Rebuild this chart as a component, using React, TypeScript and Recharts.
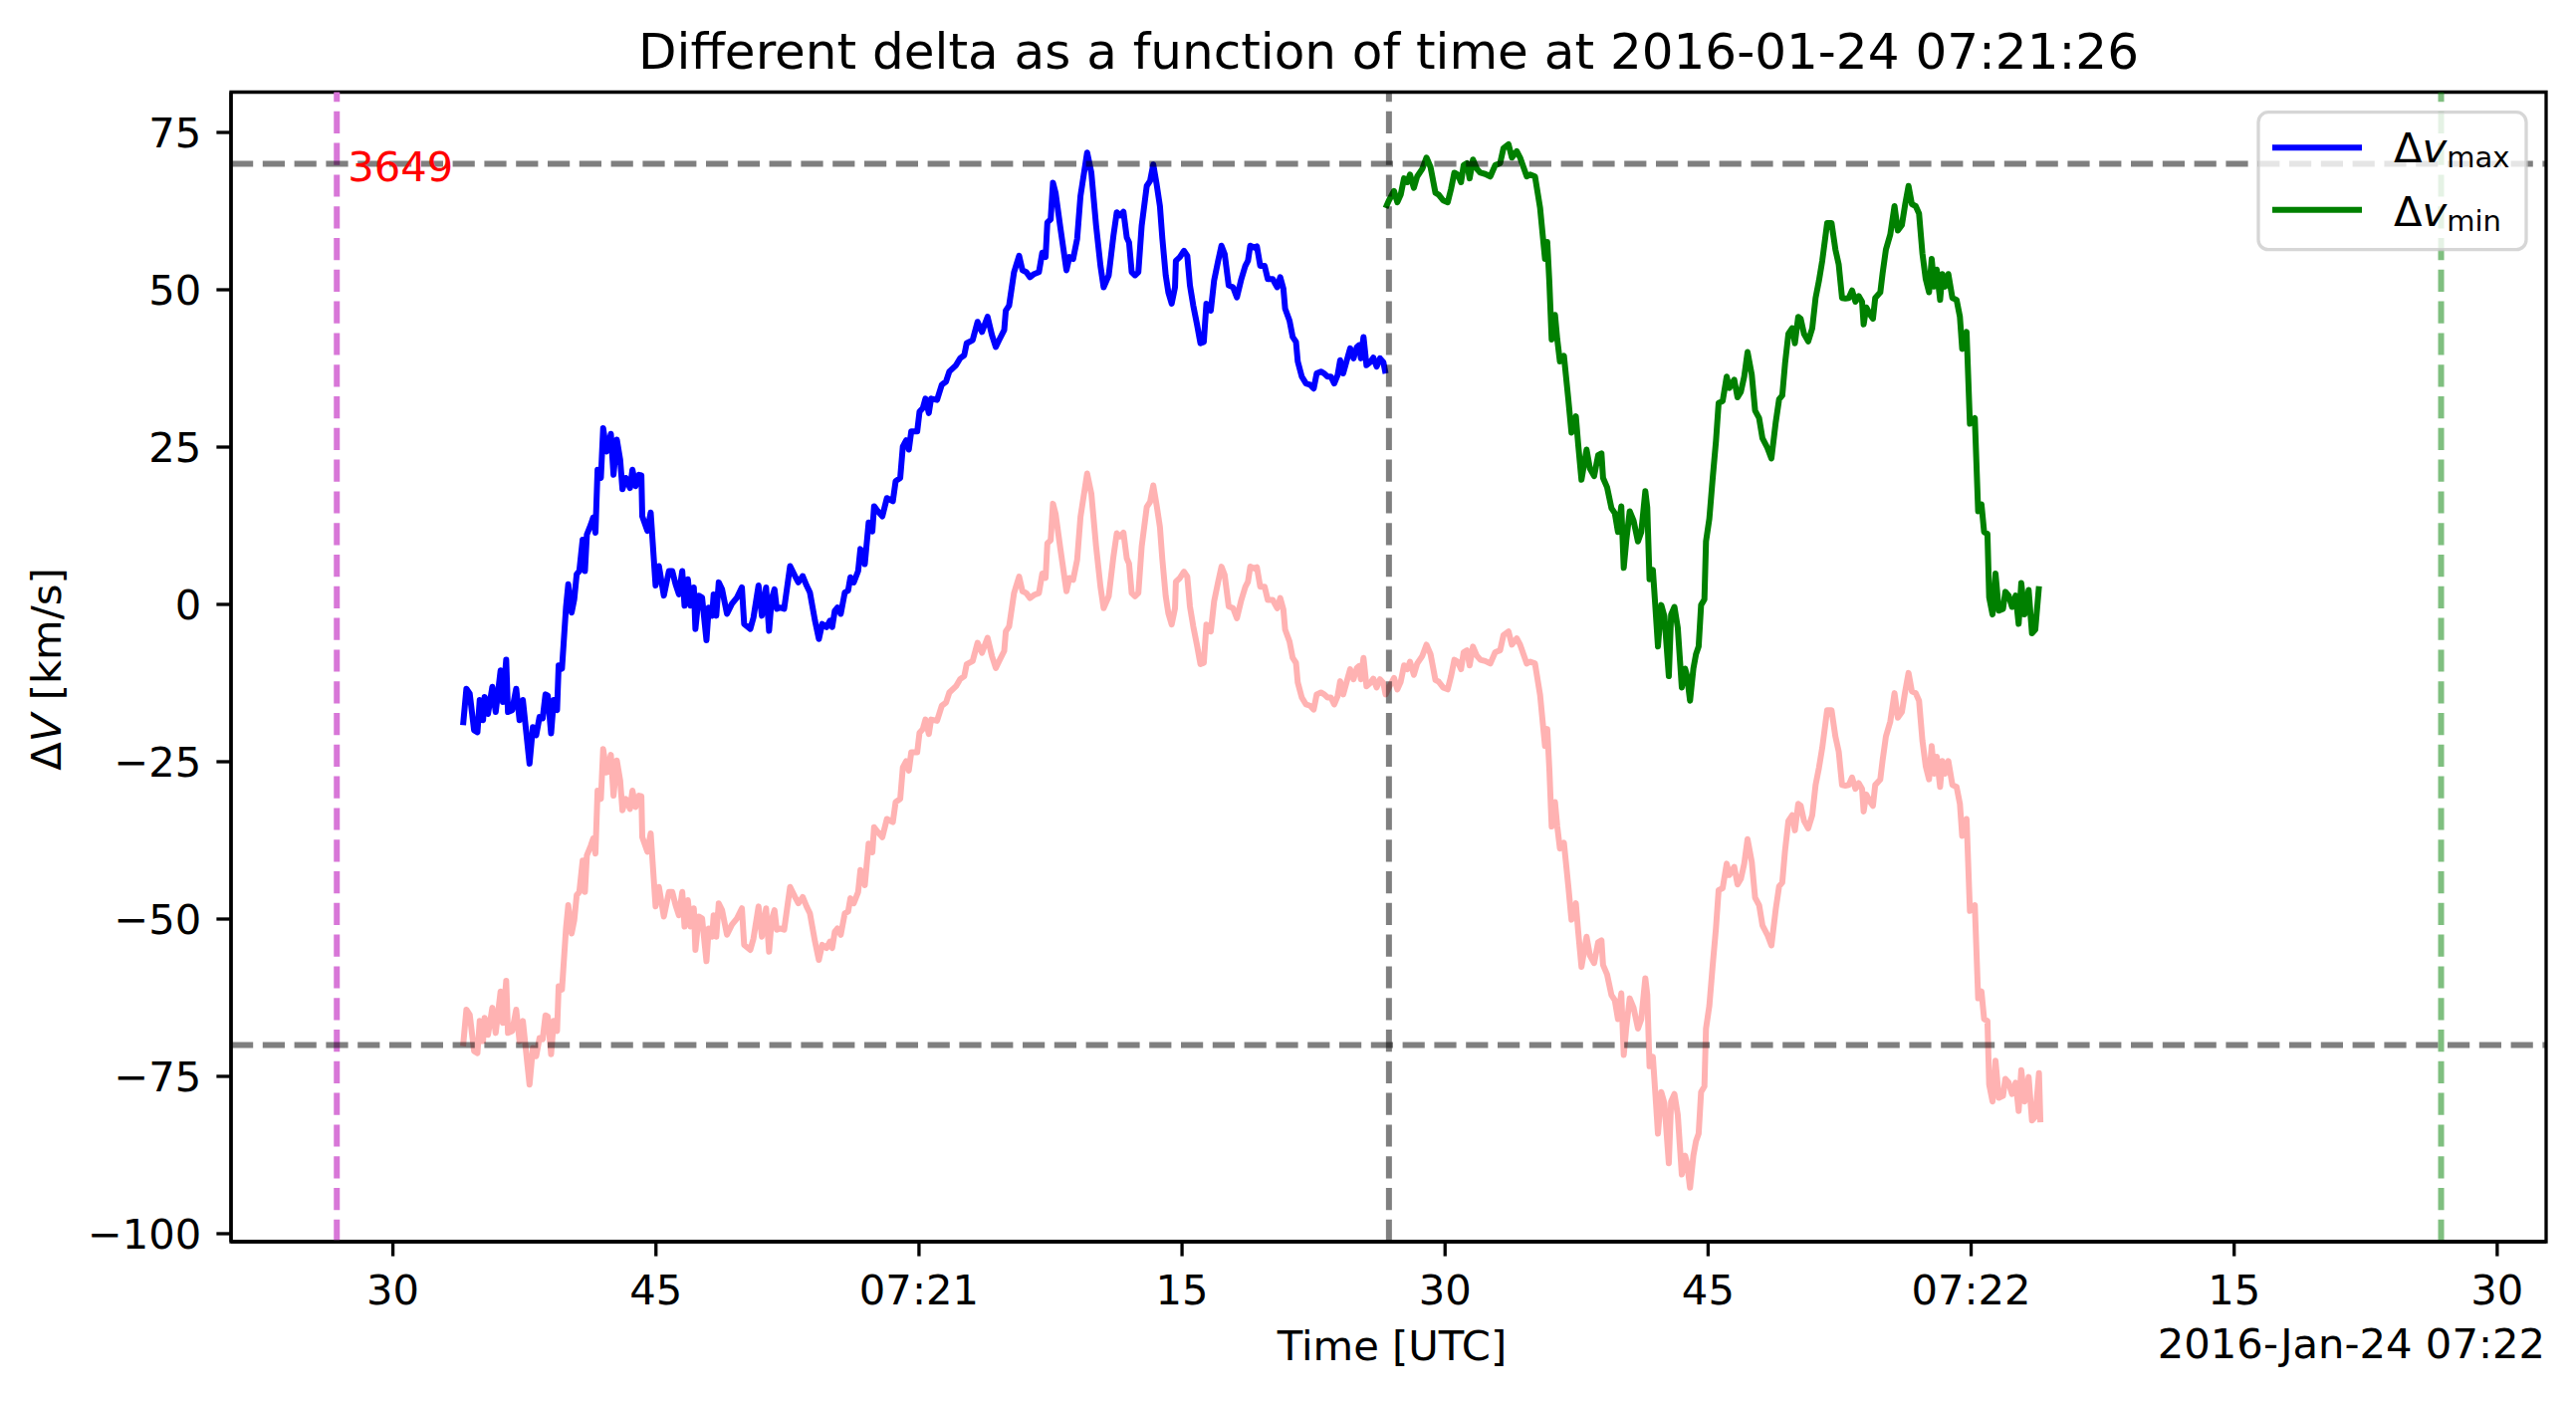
import React from 'react';
import { LineChart, Line, XAxis, YAxis, ReferenceLine, ReferenceDot, ReferenceArea } from 'recharts';

// time in seconds after 07:20:00 UTC, value in km/s
const deltaVmax: [number, number][] = [
  [34.0, -19.2], [34.19, -13.4], [34.38, -14.2], [34.63, -20.0], [34.82, -20.3], [34.95, -15.2], [35.14, -18.4],
  [35.23, -14.7], [35.42, -17.4], [35.67, -13.1], [35.86, -17.1], [36.14, -10.5], [36.27, -15.5], [36.46, -8.8],
  [36.56, -17.1], [36.8, -16.8], [37.03, -13.4], [37.22, -18.4], [37.41, -15.2], [37.79, -25.3], [37.98, -19.5],
  [38.17, -20.8], [38.36, -17.9], [38.54, -18.1], [38.7, -14.3], [38.83, -14.5], [39.02, -20.5], [39.17, -15.2],
  [39.36, -16.8], [39.45, -9.7], [39.64, -10.2], [39.87, -0.5], [40.0, 3.2], [40.19, -1.3], [40.34, 0.8],
  [40.48, 4.8], [40.63, 5.3], [40.82, 10.3], [40.95, 5.3], [41.06, 11.1], [41.29, 12.7], [41.42, 13.8],
  [41.55, 11.4], [41.67, 21.4], [41.86, 20.1], [41.99, 28.0], [42.18, 24.3], [42.43, 27.1], [42.58, 20.6],
  [42.77, 26.2], [42.96, 23.0], [43.09, 18.3], [43.28, 20.1], [43.52, 18.5], [43.66, 21.4], [43.84, 18.8],
  [44.03, 20.6], [44.17, 20.5], [44.22, 14.0], [44.51, 11.7], [44.7, 14.6], [44.98, 3.0], [45.17, 6.1],
  [45.45, 1.4], [45.74, 5.3], [45.93, 5.3], [46.12, 3.2], [46.31, 1.6], [46.5, 5.3], [46.63, -0.2],
  [46.82, 4.0], [46.97, -0.2], [47.16, 2.7], [47.25, -3.9], [47.44, 1.4], [47.63, 1.1], [47.88, -5.7],
  [48.01, -0.5], [48.2, -1.8], [48.29, 1.6], [48.44, -1.8], [48.58, 3.5], [48.77, 2.4], [49.05, -1.5],
  [49.33, 0.1], [49.62, 1.1], [49.9, 2.7], [50.03, -3.1], [50.38, -3.9], [50.56, -2.1], [50.85, 3.0],
  [51.04, -1.8], [51.28, 2.7], [51.45, -4.2], [51.6, 0.9], [51.76, 2.4], [51.89, -0.7], [52.08, -0.5],
  [52.31, -0.7], [52.65, 6.1], [52.93, 4.5], [53.12, 3.5], [53.37, 4.5], [53.59, 3.0], [53.78, 1.9],
  [54.07, -2.6], [54.29, -5.5], [54.48, -3.1], [54.73, -3.6], [54.92, -2.6], [55.05, -3.6], [55.2, -1.0],
  [55.35, -0.5], [55.54, -1.5], [55.77, 1.9], [55.96, 2.2], [56.09, 4.3], [56.28, 3.5], [56.53, 5.3],
  [56.66, 8.8], [56.91, 6.4], [57.13, 13.0], [57.34, 11.6], [57.44, 15.6], [57.66, 14.8], [57.91, 14.0],
  [58.17, 16.9], [58.51, 16.4], [58.67, 19.6], [58.93, 20.1], [59.08, 25.1], [59.27, 26.1], [59.42, 24.6],
  [59.56, 27.5], [59.9, 27.5], [60.03, 30.6], [60.22, 31.2], [60.37, 32.7], [60.56, 30.4], [60.69, 32.7],
  [61.03, 32.5], [61.3, 34.9], [61.54, 35.4], [61.73, 37.0], [62.11, 38.0], [62.34, 39.1], [62.58, 39.6],
  [62.72, 41.5], [63.06, 42.0], [63.34, 44.9], [63.59, 43.3], [63.91, 45.7], [64.16, 42.8], [64.38, 40.9],
  [64.57, 42.0], [64.86, 43.6], [64.95, 46.7], [65.14, 47.5], [65.42, 52.8], [65.71, 55.4], [65.9, 53.1],
  [66.12, 52.8], [66.33, 52.0], [66.56, 52.5], [66.84, 52.8], [67.03, 55.9], [67.22, 55.2], [67.32, 60.7],
  [67.51, 61.2], [67.64, 67.0], [67.79, 65.4], [68.07, 59.7], [68.41, 53.1], [68.58, 55.2], [68.79, 54.9],
  [69.02, 58.1], [69.21, 64.9], [69.59, 71.8], [69.83, 68.6], [70.1, 60.2], [70.35, 53.8], [70.53, 50.4],
  [70.82, 52.3], [71.09, 58.6], [71.28, 62.3], [71.47, 61.8], [71.66, 62.4], [71.85, 58.3], [71.98, 57.5],
  [72.13, 52.8], [72.32, 52.3], [72.51, 52.8], [72.7, 60.2], [72.99, 66.5], [73.18, 67.3], [73.36, 69.9],
  [73.55, 66.8], [73.74, 63.3], [73.88, 58.1], [74.07, 52.3], [74.22, 49.6], [74.41, 47.8], [74.6, 50.4],
  [74.65, 54.6], [74.88, 55.2], [75.11, 56.2], [75.3, 55.4], [75.45, 50.7], [75.64, 47.5], [75.86, 44.4],
  [76.05, 41.5], [76.24, 41.7], [76.39, 47.8], [76.64, 46.7], [76.83, 51.5], [77.06, 54.6], [77.25, 57.0],
  [77.43, 55.7], [77.66, 50.7], [77.91, 50.4], [78.13, 48.8], [78.38, 51.7], [78.61, 53.8], [78.76, 54.6],
  [78.89, 57.0], [79.14, 56.7], [79.27, 56.9], [79.46, 53.8], [79.71, 53.8], [79.89, 51.7], [80.18, 51.7],
  [80.27, 51.2], [80.43, 50.4], [80.6, 52.0], [80.78, 50.2], [80.88, 47.0], [81.13, 45.1], [81.31, 42.5],
  [81.5, 41.7], [81.6, 38.6], [81.83, 36.2], [82.07, 35.1], [82.3, 34.9], [82.51, 34.3], [82.68, 36.7],
  [82.92, 37.0], [83.11, 36.7], [83.3, 36.2], [83.49, 36.2], [83.68, 35.1], [83.87, 36.4], [84.02, 38.8],
  [84.19, 36.7], [84.38, 38.6], [84.59, 40.7], [84.78, 39.1], [84.97, 40.9], [85.1, 41.2], [85.2, 39.1],
  [85.35, 42.5], [85.52, 38.0], [85.73, 38.5], [85.91, 39.2], [86.1, 37.8], [86.29, 39.1], [86.48, 38.5],
  [86.61, 36.7],
];

const deltaVmin: [number, number][] = [
  [86.61, 63.0], [86.8, 64.2], [87.09, 65.7], [87.28, 63.9], [87.47, 65.1], [87.66, 67.7], [87.85, 67.1],
  [88.0, 68.3], [88.22, 66.2], [88.41, 68.0], [88.7, 69.2], [88.94, 71.0], [89.17, 69.5], [89.45, 65.4],
  [89.64, 65.1], [89.89, 64.2], [90.15, 63.9], [90.34, 66.0], [90.53, 68.6], [90.72, 68.3], [90.91, 67.1],
  [91.06, 69.8], [91.25, 70.1], [91.4, 67.7], [91.59, 70.7], [91.82, 69.2], [92.01, 68.6], [92.29, 68.4],
  [92.58, 68.0], [92.86, 69.8], [93.14, 70.1], [93.33, 72.5], [93.62, 73.1], [93.81, 71.0], [94.09, 72.0],
  [94.28, 71.0], [94.47, 69.5], [94.66, 68.0], [94.85, 68.3], [95.13, 68.0], [95.42, 63.0], [95.7, 54.9],
  [95.83, 57.6], [95.95, 51.1], [96.08, 42.1], [96.27, 46.0], [96.4, 42.1], [96.55, 38.6], [96.78, 39.5],
  [97.03, 32.6], [97.21, 27.3], [97.46, 29.9], [97.59, 25.5], [97.78, 19.8], [98.07, 24.6], [98.26, 21.6],
  [98.5, 20.4], [98.73, 23.7], [98.92, 24.0], [99.01, 20.1], [99.24, 18.6], [99.49, 15.3], [99.68, 14.5],
  [99.86, 11.5], [100.05, 15.6], [100.19, 5.8], [100.34, 10.3], [100.53, 14.8], [100.75, 13.3], [101.0, 10.0],
  [101.19, 11.5], [101.42, 18.0], [101.53, 15.4], [101.66, 4.0], [101.85, 5.5], [102.0, -0.7], [102.14, -6.7],
  [102.33, -0.1], [102.51, -1.9], [102.76, -11.4], [102.89, -1.6], [103.08, -0.4], [103.27, -3.7], [103.5, -13.2],
  [103.69, -10.2], [103.8, -11.4], [103.97, -15.3], [104.16, -10.2], [104.31, -7.9], [104.46, -6.7], [104.6, -0.1],
  [104.79, 0.8], [104.88, 10.0], [105.07, 13.6], [105.26, 20.0], [105.45, 26.0], [105.6, 32.0], [105.83, 32.3],
  [106.06, 36.2], [106.21, 34.4], [106.49, 35.7], [106.68, 32.9], [106.87, 33.8], [107.06, 36.2], [107.25, 40.1],
  [107.49, 36.5], [107.68, 30.8], [107.91, 29.6], [108.1, 26.4], [108.38, 24.9], [108.61, 23.2], [108.86, 29.0],
  [109.05, 32.6], [109.23, 33.2], [109.39, 38.3], [109.58, 43.0], [109.8, 43.9], [109.95, 41.5], [110.14, 45.7],
  [110.28, 45.4], [110.47, 43.0], [110.71, 41.8], [110.94, 43.9], [111.13, 48.7], [111.32, 51.4], [111.51, 54.6],
  [111.79, 60.6], [112.04, 60.6], [112.26, 56.4], [112.45, 54.0], [112.64, 48.7], [112.83, 48.6], [113.02, 48.7],
  [113.21, 49.9], [113.4, 48.1], [113.59, 49.0], [113.78, 48.1], [113.87, 44.5], [114.02, 47.2], [114.25, 46.0],
  [114.4, 45.4], [114.53, 48.7], [114.82, 49.6], [114.95, 52.6], [115.14, 56.4], [115.39, 58.8], [115.63, 63.3],
  [115.82, 59.4], [116.05, 60.3], [116.24, 63.6], [116.43, 66.5], [116.62, 63.6], [116.84, 63.3], [117.03, 62.1],
  [117.22, 55.8], [117.41, 51.7], [117.6, 49.6], [117.75, 54.9], [117.9, 50.5], [118.04, 53.2], [118.23, 48.4],
  [118.36, 52.5], [118.51, 50.5], [118.7, 52.5], [118.93, 48.7], [119.17, 48.4], [119.36, 45.7], [119.49, 40.6],
  [119.74, 43.3], [119.93, 28.7], [120.21, 29.6], [120.4, 14.8], [120.59, 15.9], [120.74, 11.5], [120.93, 11.2],
  [121.03, 1.1], [121.22, -1.6], [121.39, 4.9], [121.58, -1.0], [121.82, -0.7], [121.95, 2.0], [122.14, 1.4],
  [122.33, -0.4], [122.54, 1.4], [122.71, -3.1], [122.86, 3.4], [123.05, -1.6], [123.28, 2.3], [123.47, -4.6],
  [123.66, -4.0], [123.87, 2.9],
];

const deltaVraw: [number, number][] = [
  [34.0, -70.2], [34.19, -64.4], [34.38, -65.2], [34.63, -71.0], [34.82, -71.3], [34.95, -66.2], [35.14, -69.4],
  [35.23, -65.7], [35.42, -68.4], [35.67, -64.1], [35.86, -68.1], [36.14, -61.5], [36.27, -66.5], [36.46, -59.8],
  [36.56, -68.1], [36.8, -67.8], [37.03, -64.4], [37.22, -69.4], [37.41, -66.2], [37.79, -76.3], [37.98, -70.5],
  [38.17, -71.8], [38.36, -68.9], [38.54, -69.1], [38.7, -65.3], [38.83, -65.5], [39.02, -71.5], [39.17, -66.2],
  [39.36, -67.8], [39.45, -60.7], [39.64, -61.2], [39.87, -51.5], [40.0, -47.8], [40.19, -52.3], [40.34, -50.2],
  [40.48, -46.2], [40.63, -45.7], [40.82, -40.7], [40.95, -45.7], [41.06, -39.9], [41.29, -38.3], [41.42, -37.2],
  [41.55, -39.6], [41.67, -29.6], [41.86, -30.9], [41.99, -23.0], [42.18, -26.7], [42.43, -23.9], [42.58, -30.4],
  [42.77, -24.8], [42.96, -28.0], [43.09, -32.7], [43.28, -30.9], [43.52, -32.5], [43.66, -29.6], [43.84, -32.2],
  [44.03, -30.4], [44.17, -30.5], [44.22, -37.0], [44.51, -39.3], [44.7, -36.4], [44.98, -48.0], [45.17, -44.9],
  [45.45, -49.6], [45.74, -45.7], [45.93, -45.7], [46.12, -47.8], [46.31, -49.4], [46.5, -45.7], [46.63, -51.2],
  [46.82, -47.0], [46.97, -51.2], [47.16, -48.3], [47.25, -54.9], [47.44, -49.6], [47.63, -49.9], [47.88, -56.7],
  [48.01, -51.5], [48.2, -52.8], [48.29, -49.4], [48.44, -52.8], [48.58, -47.5], [48.77, -48.6], [49.05, -52.5],
  [49.33, -50.9], [49.62, -49.9], [49.9, -48.3], [50.03, -54.1], [50.38, -54.9], [50.56, -53.1], [50.85, -48.0],
  [51.04, -52.8], [51.28, -48.3], [51.45, -55.2], [51.6, -50.1], [51.76, -48.6], [51.89, -51.7], [52.08, -51.5],
  [52.31, -51.7], [52.65, -44.9], [52.93, -46.5], [53.12, -47.5], [53.37, -46.5], [53.59, -48.0], [53.78, -49.1],
  [54.07, -53.6], [54.29, -56.5], [54.48, -54.1], [54.73, -54.6], [54.92, -53.6], [55.05, -54.6], [55.2, -52.0],
  [55.35, -51.5], [55.54, -52.5], [55.77, -49.1], [55.96, -48.8], [56.09, -46.7], [56.28, -47.5], [56.53, -45.7],
  [56.66, -42.2], [56.91, -44.6], [57.13, -38.0], [57.34, -39.4], [57.44, -35.4], [57.66, -36.2], [57.91, -37.0],
  [58.17, -34.1], [58.51, -34.6], [58.67, -31.4], [58.93, -30.9], [59.08, -25.9], [59.27, -24.9], [59.42, -26.4],
  [59.56, -23.5], [59.9, -23.5], [60.03, -20.4], [60.22, -19.8], [60.37, -18.3], [60.56, -20.6], [60.69, -18.3],
  [61.03, -18.5], [61.3, -16.1], [61.54, -15.6], [61.73, -14.0], [62.11, -13.0], [62.34, -11.9], [62.58, -11.4],
  [62.72, -9.5], [63.06, -9.0], [63.34, -6.1], [63.59, -7.7], [63.91, -5.3], [64.16, -8.2], [64.38, -10.1],
  [64.57, -9.0], [64.86, -7.4], [64.95, -4.3], [65.14, -3.5], [65.42, 1.8], [65.71, 4.4], [65.9, 2.1],
  [66.12, 1.8], [66.33, 1.0], [66.56, 1.5], [66.84, 1.8], [67.03, 4.9], [67.22, 4.2], [67.32, 9.7],
  [67.51, 10.2], [67.64, 16.0], [67.79, 14.4], [68.07, 8.7], [68.41, 2.1], [68.58, 4.2], [68.79, 3.9],
  [69.02, 7.1], [69.21, 13.9], [69.59, 20.8], [69.83, 17.6], [70.1, 9.2], [70.35, 2.8], [70.53, -0.6],
  [70.82, 1.3], [71.09, 7.6], [71.28, 11.3], [71.47, 10.8], [71.66, 11.4], [71.85, 7.3], [71.98, 6.5],
  [72.13, 1.8], [72.32, 1.3], [72.51, 1.8], [72.7, 9.2], [72.99, 15.5], [73.18, 16.3], [73.36, 18.9],
  [73.55, 15.8], [73.74, 12.3], [73.88, 7.1], [74.07, 1.3], [74.22, -1.4], [74.41, -3.2], [74.6, -0.6],
  [74.65, 3.6], [74.88, 4.2], [75.11, 5.2], [75.3, 4.4], [75.45, -0.3], [75.64, -3.5], [75.86, -6.6],
  [76.05, -9.5], [76.24, -9.3], [76.39, -3.2], [76.64, -4.3], [76.83, 0.5], [77.06, 3.6], [77.25, 6.0],
  [77.43, 4.7], [77.66, -0.3], [77.91, -0.6], [78.13, -2.2], [78.38, 0.7], [78.61, 2.8], [78.76, 3.6],
  [78.89, 6.0], [79.14, 5.7], [79.27, 5.9], [79.46, 2.8], [79.71, 2.8], [79.89, 0.7], [80.18, 0.7],
  [80.27, 0.2], [80.43, -0.6], [80.6, 1.0], [80.78, -0.8], [80.88, -4.0], [81.13, -5.9], [81.31, -8.5],
  [81.5, -9.3], [81.6, -12.4], [81.83, -14.8], [82.07, -15.9], [82.3, -16.1], [82.51, -16.7], [82.68, -14.3],
  [82.92, -14.0], [83.11, -14.3], [83.3, -14.8], [83.49, -14.8], [83.68, -15.9], [83.87, -14.6], [84.02, -12.2],
  [84.19, -14.3], [84.38, -12.4], [84.59, -10.3], [84.78, -11.9], [84.97, -10.1], [85.1, -9.8], [85.2, -11.9],
  [85.35, -8.5], [85.52, -13.0], [85.73, -12.5], [85.91, -11.8], [86.1, -13.2], [86.29, -11.9], [86.48, -12.5],
  [86.61, -14.3], [86.8, -13.2], [87.09, -11.7], [87.28, -13.5], [87.47, -12.3], [87.66, -9.7], [87.85, -10.3],
  [88.0, -9.1], [88.22, -11.2], [88.41, -9.4], [88.7, -8.2], [88.94, -6.4], [89.17, -7.9], [89.45, -12.0],
  [89.64, -12.3], [89.89, -13.2], [90.15, -13.5], [90.34, -11.4], [90.53, -8.8], [90.72, -9.1], [90.91, -10.3],
  [91.06, -7.6], [91.25, -7.3], [91.4, -9.7], [91.59, -6.7], [91.82, -8.2], [92.01, -8.8], [92.29, -9.0],
  [92.58, -9.4], [92.86, -7.6], [93.14, -7.3], [93.33, -4.9], [93.62, -4.3], [93.81, -6.4], [94.09, -5.4],
  [94.28, -6.4], [94.47, -7.9], [94.66, -9.4], [94.85, -9.1], [95.13, -9.4], [95.42, -14.4], [95.7, -22.5],
  [95.83, -19.8], [95.95, -26.3], [96.08, -35.3], [96.27, -31.4], [96.4, -35.3], [96.55, -38.8], [96.78, -37.9],
  [97.03, -44.8], [97.21, -50.1], [97.46, -47.5], [97.59, -51.9], [97.78, -57.6], [98.07, -52.8], [98.26, -55.8],
  [98.5, -57.0], [98.73, -53.7], [98.92, -53.4], [99.01, -57.3], [99.24, -58.8], [99.49, -62.1], [99.68, -62.9],
  [99.86, -65.9], [100.05, -61.8], [100.19, -71.6], [100.34, -67.1], [100.53, -62.6], [100.75, -64.1], [101.0, -67.4],
  [101.19, -65.9], [101.42, -59.4], [101.53, -62.0], [101.66, -73.4], [101.85, -71.9], [102.0, -78.1], [102.14, -84.1],
  [102.33, -77.5], [102.51, -79.3], [102.76, -88.8], [102.89, -79.0], [103.08, -77.8], [103.27, -81.1], [103.5, -90.6],
  [103.69, -87.6], [103.8, -88.8], [103.97, -92.7], [104.16, -87.6], [104.31, -85.3], [104.46, -84.1], [104.6, -77.5],
  [104.79, -76.6], [104.88, -67.4], [105.07, -63.8], [105.26, -57.4], [105.45, -51.4], [105.6, -45.4], [105.83, -45.1],
  [106.06, -41.2], [106.21, -43.0], [106.49, -41.7], [106.68, -44.5], [106.87, -43.6], [107.06, -41.2], [107.25, -37.3],
  [107.49, -40.9], [107.68, -46.6], [107.91, -47.8], [108.1, -51.0], [108.38, -52.5], [108.61, -54.2], [108.86, -48.4],
  [109.05, -44.8], [109.23, -44.2], [109.39, -39.1], [109.58, -34.4], [109.8, -33.5], [109.95, -35.9], [110.14, -31.7],
  [110.28, -32.0], [110.47, -34.4], [110.71, -35.6], [110.94, -33.5], [111.13, -28.7], [111.32, -26.0], [111.51, -22.8],
  [111.79, -16.8], [112.04, -16.8], [112.26, -21.0], [112.45, -23.4], [112.64, -28.7], [112.83, -28.8], [113.02, -28.7],
  [113.21, -27.5], [113.4, -29.3], [113.59, -28.4], [113.78, -29.3], [113.87, -32.9], [114.02, -30.2], [114.25, -31.4],
  [114.4, -32.0], [114.53, -28.7], [114.82, -27.8], [114.95, -24.8], [115.14, -21.0], [115.39, -18.6], [115.63, -14.1],
  [115.82, -18.0], [116.05, -17.1], [116.24, -13.8], [116.43, -10.9], [116.62, -13.8], [116.84, -14.1], [117.03, -15.3],
  [117.22, -21.6], [117.41, -25.7], [117.6, -27.8], [117.75, -22.5], [117.9, -26.9], [118.04, -24.2], [118.23, -29.0],
  [118.36, -24.9], [118.51, -26.9], [118.7, -24.9], [118.93, -28.7], [119.17, -29.0], [119.36, -31.7], [119.49, -36.8],
  [119.74, -34.1], [119.93, -48.7], [120.21, -47.8], [120.4, -62.6], [120.59, -61.5], [120.74, -65.9], [120.93, -66.2],
  [121.03, -76.3], [121.22, -79.0], [121.39, -72.5], [121.58, -78.4], [121.82, -78.1], [121.95, -75.4], [122.14, -76.0],
  [122.33, -77.8], [122.54, -76.0], [122.71, -80.5], [122.86, -74.0], [123.05, -79.0], [123.28, -75.1], [123.47, -82.0],
  [123.66, -81.4], [123.87, -74.5], [123.95, -82.3],
];

const xTicks = [30, 45, 60, 75, 90, 105, 120, 135, 150];
const xTickLabels = ['30', '45', '07:21', '15', '30', '45', '07:22', '15', '30'];
const yTicks = [-100, -75, -50, -25, 0, 25, 50, 75];
const thresholds = [70, -70];
const windowStart = 26.8;
const eventTime = 86.8;
const windowEnd = 146.8;
const eventLabel = '3649';

const X_DOMAIN: [number, number] = [20.767, 152.79];
const Y_DOMAIN: [number, number] = [-101.27, 81.41];

const W = 2587;
const H = 1407;
const FONT = '"DejaVu Sans", sans-serif';
const FS = 41.7;
const LW = 6;
const DASH = '22.2 9.6';
const AXIS = { stroke: '#000', strokeWidth: 3.3 };

const toRows = (pairs: [number, number][]) => pairs.map(([t, v]) => ({ t, v }));
const fmtX = (v: number) => xTickLabels[xTicks.indexOf(v)] ?? '';
const fmtY = (v: number) => (v < 0 ? `\u2212${Math.abs(v)}` : `${v}`);

export default function App() {
  return (
    <div style={{ position: 'relative', width: W, height: H, background: '#fff' }}>
      <style>{`body{margin:0}`}</style>
      <LineChart width={W} height={H} margin={{ top: 92.5, right: 30, bottom: 0, left: 0 }}>
        <XAxis
          type="number"
          dataKey="t"
          domain={X_DOMAIN}
          allowDataOverflow
          ticks={xTicks}
          interval={0}
          tickFormatter={fmtX}
          height={160}
          axisLine={AXIS}
          tickLine={AXIS}
          tickSize={14.6}
          tickMargin={19}
          tick={{ fill: '#000', fontSize: FS, fontFamily: FONT }}
        />
        <YAxis
          type="number"
          domain={Y_DOMAIN}
          allowDataOverflow
          ticks={yTicks}
          interval={0}
          tickFormatter={fmtY}
          width={232}
          axisLine={AXIS}
          tickLine={AXIS}
          tickSize={14.6}
          tickMargin={15}
          tick={{ fill: '#000', fontSize: FS, fontFamily: FONT }}
        />

        <Line data={toRows(deltaVraw)} dataKey="v" type="linear" stroke="#ff0000" strokeOpacity={0.3} strokeWidth={LW} dot={false} activeDot={false} isAnimationActive={false} strokeLinejoin="round" />
        <Line data={toRows(deltaVmax)} dataKey="v" type="linear" stroke="#0000ff" strokeWidth={LW} dot={false} activeDot={false} isAnimationActive={false} strokeLinejoin="round" />
        <Line data={toRows(deltaVmin)} dataKey="v" type="linear" stroke="#008000" strokeWidth={LW} dot={false} activeDot={false} isAnimationActive={false} strokeLinejoin="round" />

        <ReferenceLine x={windowStart} stroke="#d877d8" strokeWidth={LW} strokeDasharray={DASH} />
        <ReferenceLine x={windowEnd} stroke="#008000" strokeOpacity={0.5} strokeWidth={LW} strokeDasharray={DASH} />
        {thresholds.map((y) => (
          <ReferenceLine key={y} y={y} stroke="#000" strokeOpacity={0.5} strokeWidth={LW} strokeDasharray={DASH} />
        ))}
        <ReferenceLine x={eventTime} stroke="#000" strokeOpacity={0.5} strokeWidth={LW} strokeDasharray={DASH} />
        <ReferenceDot
          x={windowStart}
          y={70}
          r={1}
          fillOpacity={0}
          strokeOpacity={0}
          label={{ value: eventLabel, position: 'right', offset: 10, fill: '#ff0000', fontSize: FS, fontFamily: FONT, dy: 3 }}
        />
        {/* axes frame (top and right spines) */}
        <ReferenceArea
          x1={X_DOMAIN[0]}
          x2={X_DOMAIN[1]}
          y1={Y_DOMAIN[0]}
          y2={Y_DOMAIN[1]}
          ifOverflow="visible"
          fill="none"
          fillOpacity={0}
          stroke="#000"
          strokeWidth={3.3}
        />
      </LineChart>

      <svg width={W} height={H} style={{ position: 'absolute', left: 0, top: 0, pointerEvents: 'none' }} fontFamily={FONT}>
        <text x={1394.5} y={68.5} textAnchor="middle" fontSize={50}>
          Different delta as a function of time at 2016-01-24 07:21:26
        </text>
        <text x={1398} y={1366} textAnchor="middle" fontSize={FS}>
          Time [UTC]
        </text>
        <text x={2556} y={1364} textAnchor="end" fontSize={FS}>
          2016-Jan-24 07:22
        </text>
        <text transform="translate(61,672) rotate(-90)" textAnchor="middle" fontSize={FS}>
          Δ<tspan fontStyle="italic">V</tspan> [km/s]
        </text>

        <rect x={2268} y={112.7} width={269} height={138} rx={10} fill="#fff" fillOpacity={0.8} stroke="#cccccc" strokeOpacity={0.8} strokeWidth={3.3} />
        <line x1={2282} x2={2372} y1={148.3} y2={148.3} stroke="#0000ff" strokeWidth={LW} />
        <line x1={2282} x2={2372} y1={210.7} y2={210.7} stroke="#008000" strokeWidth={LW} />
        <text x={2404} y={163.3} fontSize={FS}>
          Δ<tspan fontStyle="italic">v</tspan>
          <tspan fontSize={29} dy={5}>max</tspan>
        </text>
        <text x={2404} y={226.7} fontSize={FS}>
          Δ<tspan fontStyle="italic">v</tspan>
          <tspan fontSize={29} dy={5}>min</tspan>
        </text>
      </svg>
    </div>
  );
}
